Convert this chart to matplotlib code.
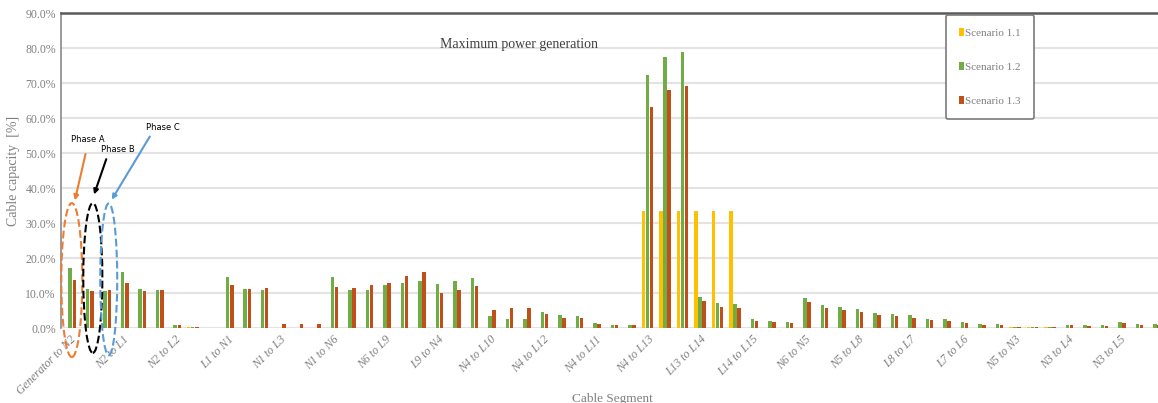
import numpy as np
import matplotlib.pyplot as plt
from matplotlib.patches import Ellipse

# cable segment names shown on the axis (every third category is labelled)
segment_labels = ["Generator to N2", "N2 to L1", "N2 to L2", "L1 to N1", "N1 to L3",
                  "N1 to N6", "N6 to L9", "L9 to N4", "N4 to L10", "N4 to L12",
                  "N4 to L11", "N4 to L13", "L13 to L14", "L14 to L15", "N6 to N5",
                  "N5 to L8", "L8 to L7", "L7 to L6", "N5 to N3", "N3 to L4", "N3 to L5"]

# cable capacity [%], one value per category (63 categories)
scenario_11 = [0, 0, 0, 0, 0, 0, 0, 0.2, 0, 0,
               0, 0, 0, 0, 0, 0, 0, 0, 0, 0,
               0, 0, 0, 0, 0, 0, 0, 0, 0, 0,
               0, 0, 0, 33.3, 33.3, 33.3, 33.3, 33.3, 33.3, 0,
               0, 0, 0, 0, 0, 0, 0, 0, 0, 0,
               0, 0, 0, 0, 0.2, 0.2, 0.2, 0, 0, 0,
               0, 0, 0]
scenario_12 = [17.2, 11.1, 10.7, 16.1, 11.1, 10.9, 0.9, 0.4, 0, 14.7,
               11.1, 11.0, 0, 0, 0, 14.5, 11.0, 11.0, 12.3, 12.8,
               13.4, 12.6, 13.5, 14.2, 3.4, 2.7, 2.5, 4.7, 3.6, 3.3,
               1.4, 1.0, 1.0, 72.3, 77.5, 79.0, 9.0, 7.2, 6.8, 2.5,
               1.9, 1.8, 8.5, 6.7, 6.1, 5.4, 4.2, 3.9, 3.6, 2.7,
               2.5, 1.7, 1.2, 1.2, 0.4, 0.4, 0.4, 1.0, 0.8, 0.8,
               1.6, 1.1, 1.1]
scenario_13 = [13.8, 10.6, 11.0, 13.0, 10.6, 11.0, 0.8, 0.3, 0, 12.3,
               11.1, 11.5, 1.2, 1.2, 1.2, 11.8, 11.5, 12.4, 12.8, 14.9,
               16.0, 9.9, 11.0, 12.0, 5.1, 5.6, 5.7, 3.9, 3.0, 2.8,
               1.2, 1.0, 0.8, 63.3, 68.0, 69.3, 7.7, 6.1, 5.6, 2.1,
               1.6, 1.5, 7.3, 5.7, 5.2, 4.6, 3.6, 3.3, 3.0, 2.4,
               2.1, 1.4, 1.0, 1.0, 0.3, 0.3, 0.3, 0.9, 0.7, 0.6,
               1.3, 1.0, 1.0]

serif = "Liberation Serif"
grey = "#808080"

fig = plt.figure(figsize=(11.58, 4.03), dpi=100)
ax = fig.add_axes([0.0531, 0.186, 0.952, 0.7816])

x = np.arange(len(scenario_12))
w = 0.2
off = 0.23
ax.bar(x - off, scenario_11, w, color="#FFC000", label="Scenario 1.1", zorder=3)
ax.bar(x, scenario_12, w, color="#70AD47", label="Scenario 1.2", zorder=3)
ax.bar(x + off, scenario_13, w, color="#C0501A", label="Scenario 1.3", zorder=3)

ax.set_xlim(-0.5, len(x) - 0.5)
ax.set_ylim(0, 90)
ax.set_yticks(np.arange(0, 91, 10))
ax.set_yticklabels([f"{v:.1f}%" for v in range(0, 91, 10)], fontfamily=serif,
                   fontsize=8.5, color=grey)
ax.set_xticks(x[::3])
ax.set_xticklabels(segment_labels, rotation=45, ha="right", rotation_mode="anchor",
                   fontfamily=serif, fontstyle="italic", fontsize=8.5, color=grey)
ax.tick_params(length=0, pad=4)

ax.yaxis.grid(True, color="#e3e3e3", linewidth=1.5, zorder=0)
ax.set_axisbelow(True)
for s in ["right", "bottom"]:
    ax.spines[s].set_visible(False)
ax.spines["top"].set_color("#5a5a5a")
ax.spines["top"].set_linewidth(1.8)
ax.spines["left"].set_color("#8a8a8a")
ax.spines["left"].set_linewidth(1.2)

ax.set_ylabel("Cable capacity  [%]", fontfamily=serif, fontsize=10, color=grey, labelpad=4)
ax.set_xlabel("Cable Segment", fontfamily=serif, fontsize=9.5, color=grey)
ax.xaxis.set_label_coords(0.5, -0.205)
ax.text(0.415, 0.89, "Maximum power generation", transform=ax.transAxes,
        fontfamily=serif, fontsize=10, color="#404040", ha="center")

leg = ax.legend(loc="upper left", bbox_to_anchor=(946 / 1158, 1 - 15 / 403),
                bbox_transform=fig.transFigure, borderaxespad=0,
                prop={"family": serif, "size": 8}, labelspacing=2.2,
                handlelength=0.45, handleheight=0.7, handletextpad=0.15,
                borderpad=1.15, fancybox=True, framealpha=1, edgecolor="#7a7a7a")
for t in leg.get_texts():
    t.set_color(grey)
leg.get_frame().set_linewidth(1.2)

# phase annotations
phases = [("Phase A", "#ED7D31", 0.09, 1.2, 13.7, 44.0, (1.03, 54.0), (0.91, 50.5), (0.23, 35.7)),
          ("Phase B", "black", 1.29, 1.09, 14.3, 42.8, (2.75, 51.0), (2.11, 49.0), (1.31, 37.4)),
          ("Phase C", "#5B9BD5", 2.2, 0.97, 13.9, 43.4, (5.3, 57.3), (4.63, 55.4), (2.29, 36.0))]
for name, col, cx, ew, cy, eh, tpos, a0, a1 in phases:
    ax.add_patch(Ellipse((cx, cy), ew, eh, fill=False, edgecolor=col, linestyle="--",
                         linewidth=1.5, clip_on=False, zorder=4))
    ax.annotate("", xy=a1, xytext=a0,
                arrowprops=dict(arrowstyle="-|>", color=col, lw=1.5, mutation_scale=7),
                annotation_clip=False, zorder=5)
    ax.text(tpos[0], tpos[1], name, fontsize=6, ha="center", va="center",
            fontfamily="Liberation Sans Narrow", color="black", zorder=5)

plt.savefig("out.png", dpi=100)
